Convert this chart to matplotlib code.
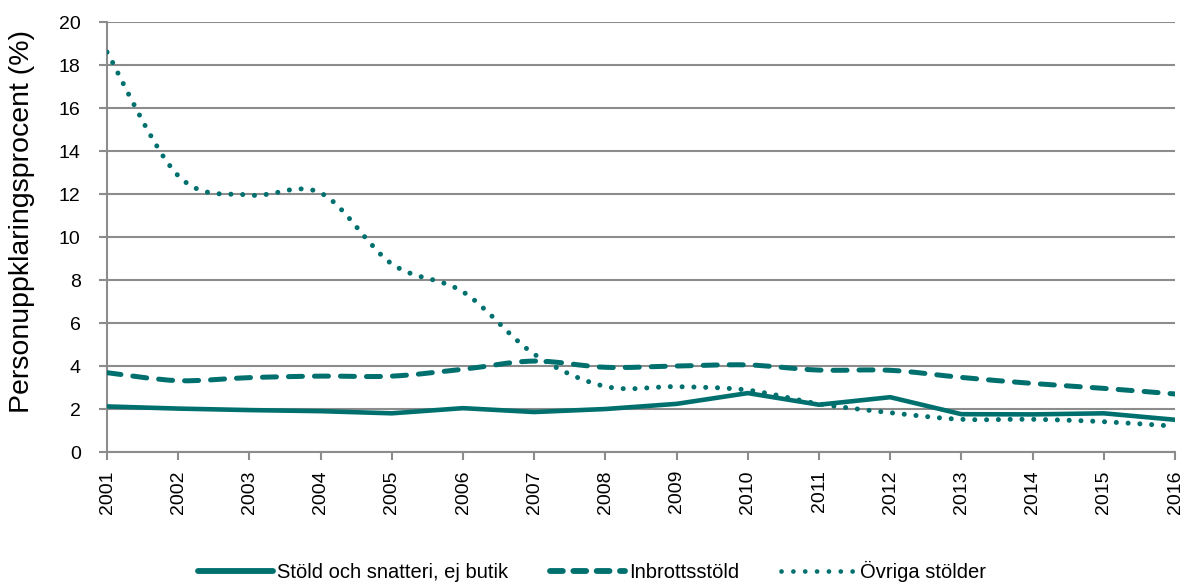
import numpy as np
import matplotlib.pyplot as plt
from matplotlib.path import Path
from matplotlib.patches import PathPatch
from matplotlib.lines import Line2D


years = list(range(2001, 2017))
stold = [2.12, 2.02, 1.95, 1.9, 1.8, 2.04, 1.86, 2.0, 2.24, 2.74, 2.2, 2.55, 1.76, 1.75, 1.8, 1.5]
inbrott = [3.69, 3.32, 3.46, 3.53, 3.53, 3.85, 4.23, 3.94, 4.0, 4.05, 3.81, 3.8, 3.47, 3.19, 2.96, 2.7]
ovriga = [18.6, 12.85, 11.95, 12.05, 8.75, 7.45, 4.55, 3.05, 3.04, 2.88, 2.24, 1.83, 1.52, 1.52, 1.41, 1.2]
labels = ["Stöld och snatteri, ej butik", "Inbrottsstöld", "Övriga stölder"]

teal = "#00706f"
grid_col = "#8c8c8c"

plt.rcParams['font.family'] = ['Liberation Sans', 'DejaVu Sans']


# smoothed line like excel: bezier segments through every point
def smooth_path(x, y):
    pts = np.column_stack([x, y]).astype(float)
    verts = [pts[0]]
    codes = [Path.MOVETO]
    n = len(pts)
    for i in range(n - 1):
        p0 = pts[i - 1] if i > 0 else pts[i]
        p1 = pts[i]
        p2 = pts[i + 1]
        p3 = pts[i + 2] if i + 2 < n else pts[i + 1]
        c1 = p1 + (p2 - p0) / 6
        c2 = p2 - (p3 - p1) / 6
        verts += [c1, c2, p2]
        codes += [Path.CURVE4] * 3
    return Path(verts, codes)


fig = plt.figure(figsize=(11.84, 5.84), dpi=100)
ax = fig.add_axes([0.0904, 0.226, 0.902, 0.7363])

# solid one is drawn straight, the two others smoothed
ax.plot(years, stold, color=teal, linewidth=3.3, solid_joinstyle='miter', zorder=3)

ax.add_patch(PathPatch(smooth_path(years, inbrott), facecolor='none', edgecolor=teal,
                       capstyle='round', linestyle=(0, (2.8, 2.4)), linewidth=3.6, zorder=3))
ax.add_patch(PathPatch(smooth_path(years, ovriga), facecolor='none', edgecolor=teal,
                       capstyle='round', linestyle=(0, (0.01, 2.35)), linewidth=3.6, zorder=3))

ax.set_xlim(2001, 2016)
ax.set_ylim(0, 20)
ax.set_yticks(range(0, 21, 2))
ax.set_xticks(years)
ax.set_xticklabels([str(y) for y in years], rotation=90)
ax.tick_params(axis='both', labelsize=14, colors=grid_col, labelcolor='black', length=6, width=1.5)
ax.tick_params(axis='x', pad=7)
ax.tick_params(axis='y', pad=13)

ax.yaxis.grid(True, color=grid_col, linewidth=1.5)
ax.set_axisbelow(True)
for s in ['top', 'right']:
    ax.spines[s].set_visible(False)
for s in ['left', 'bottom']:
    ax.spines[s].set_color(grid_col)
    ax.spines[s].set_linewidth(1.5)

ax.set_ylabel("Personuppklaringsprocent (%)", fontsize=20.5)
ax.yaxis.set_label_coords(-0.067, 0.535)

handles = [
    Line2D([], [], color=teal, linewidth=4.2, solid_capstyle='round'),
    Line2D([], [], color=teal, linewidth=4.2, linestyle=(0, (2.2, 1.8)), dash_capstyle='round'),
    Line2D([], [], color=teal, linewidth=3.4, linestyle=(0, (0.01, 2.5)), dash_capstyle='round'),
]
fig.legend(handles, labels, loc='center', ncol=3, frameon=False, fontsize=14.5,
           bbox_to_anchor=(0.5, 0.022), handlelength=3.7, columnspacing=2.1, handletextpad=0.2)

fig.savefig("out.png", dpi=100)
